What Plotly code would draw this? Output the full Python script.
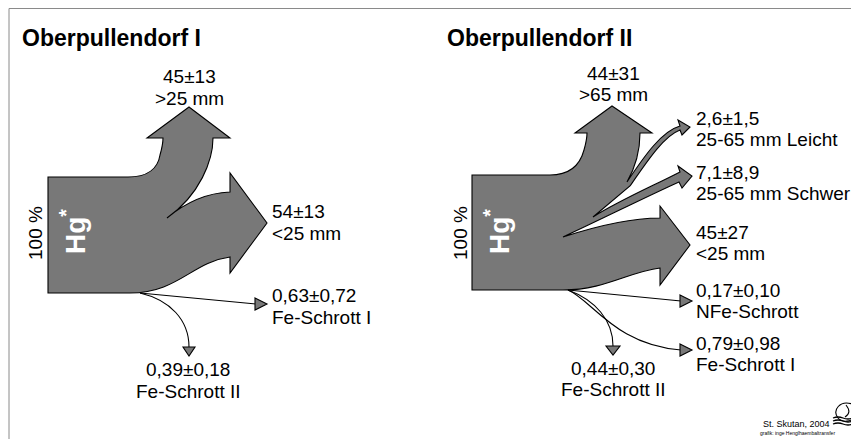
import plotly.graph_objects as go

# flow results (Hg share in %, mean and std)
titles = ["Oberpullendorf I", "Oberpullendorf II"]

values_1 = ["45±13", "54±13", "0,63±0,72", "0,39±0,18"]
fractions_1 = [">25 mm", "<25 mm", "Fe-Schrott I", "Fe-Schrott II"]

values_2 = ["44±31", "2,6±1,5", "7,1±8,9", "45±27", "0,17±0,10", "0,79±0,98", "0,44±0,30"]
fractions_2 = [">65 mm", "25-65 mm Leicht", "25-65 mm Schwer", "<25 mm",
               "NFe-Schrott", "Fe-Schrott I", "Fe-Schrott II"]

input_label = "100 %"
element = "Hg<sup>*</sup>"

FILL = "#787878"
FONT = "Liberation Sans, Arial, sans-serif"

fig = go.Figure()

def body(path):
    fig.add_shape(type="path", path=path, fillcolor=FILL,
                  line=dict(color="black", width=1.1), layer="above")

def thin(path):
    fig.add_shape(type="path", path=path, line=dict(color="black", width=1.1))

# --- panel I: main flow body
body("M 48,177 L 128,177 C 148,177 158,168 160,155 C 162,148 163,142 163,138 "
     "L 147,138 L 189,107 L 230,138 L 213,138 "
     "C 213,160 200,195 167,218 "
     "C 185,203 205,193 230,192 "
     "L 230,173 L 267,223 L 230,273 L 230,257 "
     "C 192,262 178,293 130,293 L 48,293 Z")

# panel I: small flows
thin("M 140,293 L 256,304")
body("M 255,298 L 267,304 L 255,310 Z")
thin("M 140,293 C 170,300 189,320 189,347")
body("M 183,347 L 195,347 L 189,356 Z")

# --- panel II: main flow body
body("M 472,175 L 550,175 C 570,175 580,165 584,150 C 586,143 587,138 587,133 "
     "L 575,133 L 612,106 L 652,133 L 640,133 "
     "C 640,150 635,168 627,182 "
     "C 645,155 662,131 680,126 L 678,120 L 690,127 L 682,135 L 680,130 "
     "C 664,136 648,160 630,186 "
     "L 593,217 "
     "C 620,200 655,185 680,172 L 678,166 L 692,176 L 682,188 L 679,182 "
     "C 650,195 610,215 563,237 "
     "C 600,225 635,218 660,218 "
     "L 660,206 L 690,245 L 660,285 L 660,268 "
     "C 628,272 605,290 563,290 L 472,290 Z")

# panel II: small flows
thin("M 568,290 L 681,301")
body("M 680,295 L 692,301 L 680,307 Z")
thin("M 568,290 C 592,300 615,345 681,350")
body("M 680,344 L 692,350 L 680,356 Z")
thin("M 568,290 C 595,300 613,320 613,346")
body("M 606,346 L 620,346 L 613,355 Z")

# frame lines
fig.add_shape(type="line", x0=9, y0=8.5, x1=859, y1=8.5, line=dict(color="#8a8a8a", width=1))
fig.add_shape(type="line", x0=9, y0=8.5, x1=9, y1=439, line=dict(color="#8a8a8a", width=1))

# logo
thin("M 852,404 C 840,400 832,410 838,418 C 842,423 852,422 856,416")
thin("M 846,405 C 850,410 850,414 845,417")
for yy in [418, 421, 424]:
    fig.add_shape(type="path", path=f"M 833,{yy} Q 838,{yy-2} 843,{yy} Q 848,{yy+2} 853,{yy} Q 856,{yy-1} 858,{yy}",
                  line=dict(color="black", width=1.3))

def label(x, y, text, size=19, anchor="center", **kw):
    fig.add_annotation(x=x, y=y, text=text, showarrow=False, xanchor=anchor,
                       yanchor="middle", font=dict(family=FONT, size=size, color=kw.pop("color", "black")), **kw)

# titles
label(20, 38, f"<b>{titles[0]}</b>", size=23, anchor="left")
label(445, 38, f"<b>{titles[1]}</b>", size=23, anchor="left")

# input labels
for x in [35, 460]:
    label(x, 233, input_label, textangle=-90)
for x in [73, 497]:
    label(x, 232, f"<b>{element}</b>", size=28, textangle=-90, color="white")

# panel I labels
pos_1 = [(189, 76, "center"), (270, 211, "left"), (270, 295, "left"), (188, 369, "center")]
for (x, y, a), v, f in zip(pos_1, values_1, fractions_1):
    label(x, y, v, anchor=a)
    label(x, y + 22, f, anchor=a)

# panel II labels
pos_2 = [(613, 73, "center"), (694, 118, "left"), (694, 172, "left"), (694, 232, "left"),
         (694, 290, "left"), (694, 343, "left"), (613, 368, "center")]
for (x, y, a), v, f in zip(pos_2, values_2, fractions_2):
    label(x, y, v, anchor=a)
    label(x, y + 21, f, anchor=a)

# credits
label(796, 424, "St. Skutan, 2004", size=9)
label(797, 433, "grafik: inge Henglhaembaltransfer", size=5)

# page body keeps an 8px margin, so the figure starts at (8, 8)
fig.update_xaxes(range=[8, 859], visible=False, fixedrange=True)
fig.update_yaxes(range=[439, 8], visible=False, fixedrange=True)
fig.update_layout(width=851, height=431, margin=dict(l=0, r=0, t=0, b=0),
                  plot_bgcolor="white", paper_bgcolor="white", showlegend=False)

fig.write_html("out.html")
